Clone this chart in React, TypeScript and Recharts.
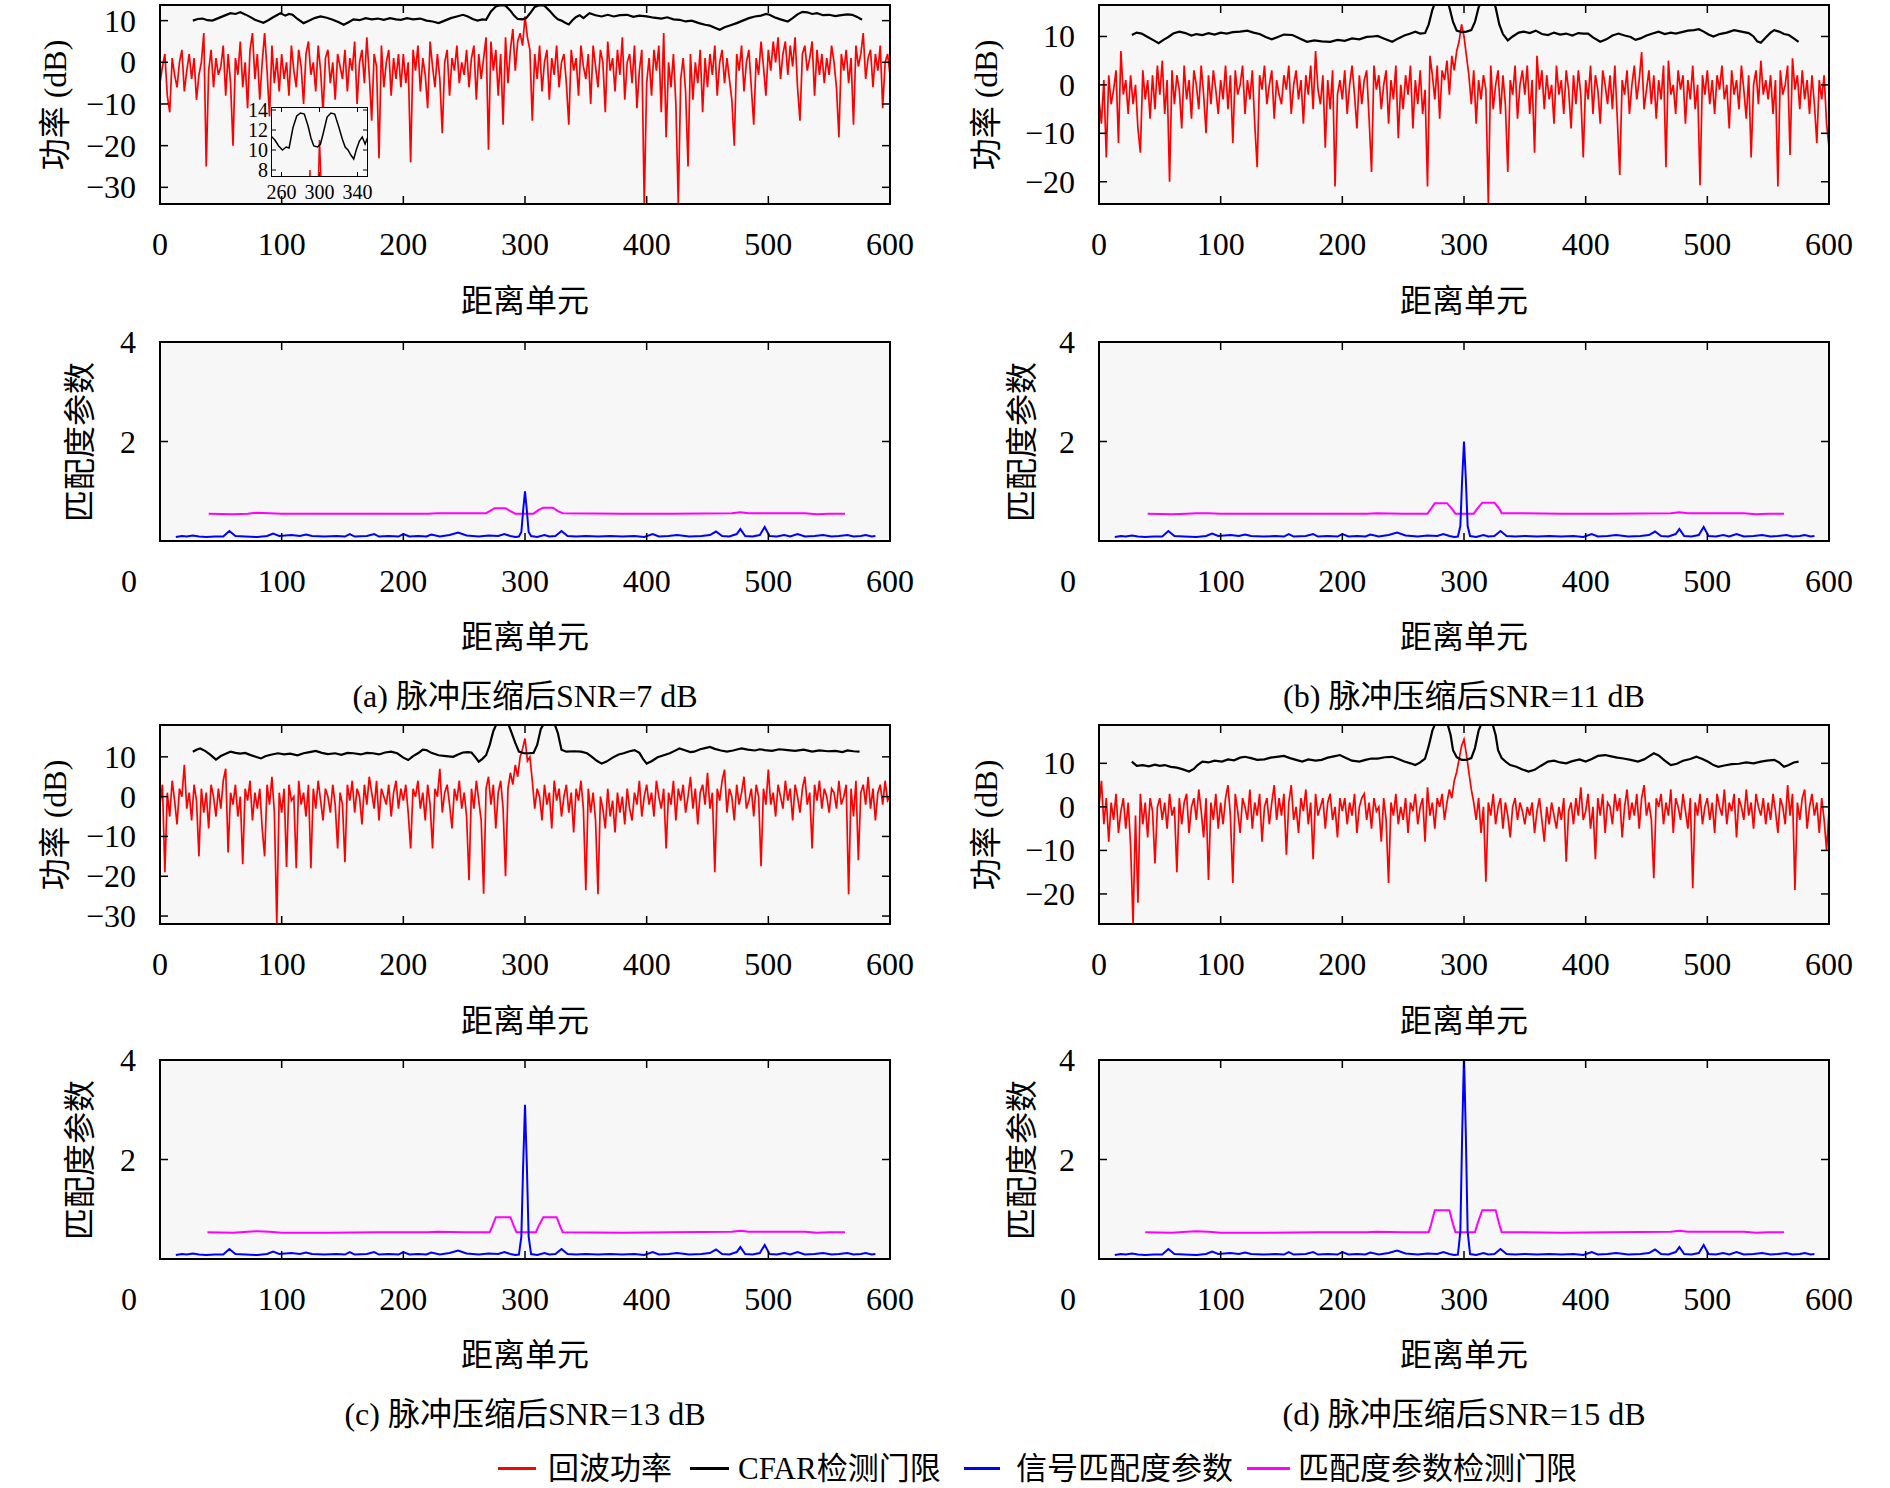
import React from 'react';
import { LineChart, Line, XAxis, YAxis } from 'recharts';

const FONT = "'Liberation Serif', 'Noto Sans CJK SC', serif";
const RED_STEP = 2;
const distanceTicks = [0, 100, 200, 300, 400, 500, 600];
const insetXTicks = [260, 300, 340];
const insetYTicks = [8, 10, 12, 14];
const matchTicks = [0, 2, 4];

// 回波功率 (dB), one value every RED_STEP range cells from 0 to 600
const echoA = [
  -5, -1, 2, -8, -12, 1, -3, -6, 0, 3, -7, -2, 2, -4, 1, -9, -3, 0, 7, -25, -2, 3, -6, 1, -3,
  -1, 4, -8, 2, -5, -20, 1, -3, 5, -6, 0, -11, 3, 7, -4, 2, -9, 0, 7, -2, -13, 4, -5, 1, -7,
  2, -4, 0, -8, 4, -2, -6, 3, -1, -10, 2, 5, -3, 0, -7, 4, -2, -12, 1, 3, -5, 0, -9, 2, -1,
  -4, 3, -7, 1, -2, 5, -10, 0, 3, -5, 6, -3, -14, 2, -1, -23, 4, -6, 0, 3, -8, 1, -4, 2, -6,
  2, -5, 0, -24, 3, -2, 4, -7, 1, -3, -11, 5, -1, -6, 2, -4, -17, 0, 3, -8, 1, -2, 4, -5, 0,
  -3, 3, -6, 1, 4, -9, 2, -4, 1, 6, -21, 5, -2, 3, -8, 2, -15, 6, -5, 3, 8, -2, 5, 7, 4,
  11, 6, 3, -14, 2, -4, 4, -7, 0, 3, -9, 1, -3, 4, -6, 0, 2, -5, -15, 3, -2, 1, -8, 4, -1,
  -4, 2, -10, 4, -1, -6, 3, 0, -12, 5, -2, 1, -7, 3, -3, 6, -9, 0, 2, -5, 4, -11, -2, 3, -34,
  -5, 1, -8, 3, -2, 4, -12, 7, -18, 0, -6, 2, -10, -34, -4, 1, -7, -25, 2, -9, 0, -5, 3, -12, 1,
  -6, 2, -3, 4, -8, 0, 3, -5, 1, -4, -9, -20, 2, -2, 4, -7, 0, 3, -6, -15, 1, -3, 5, -1, -8,
  3, -2, 5, 0, 6, -4, 2, 5, -3, 4, -1, 6, -6, -14, 2, 4, -2, 1, 5, -8, 3, -3, 2, -5, 1,
  -3, 4, 0, -6, -18, 2, -2, 3, -5, 1, -15, 4, -1, 2, 7, -4, 1, 3, -6, 2, -2, 4, -11, 0, 2,
  -3,
];
const echoB = [
  -3, -8, 1, -15, 2, -4, -1, 3, -12, 7, -2, 1, -6, 2, -4, 0, -9, -14, 3, -3, 1, -7, 2, -5, 4,
  -2, 5, -6, 1, -20, 3, -4, 2, -1, -9, 4, -3, 1, -7, 3, 0, -5, 4, -2, -10, 2, -4, 3, -1, -6,
  1, -3, 4, -5, 2, -12, 3, -2, 0, 4, -6, 1, -3, 3, -8, -17, 2, -1, 4, -4, 0, 3, -7, 1, -2,
  -4, 2, -1, 4, -6, 0, 3, -3, 1, -8, 2, -2, 4, -5, 7, -1, -4, 2, -13, 1, -5, 3, -21, -2, 1,
  -3, 3, -6, 0, 4, -2, -9, 2, -4, 1, 3, -7, -18, 4, -1, 2, -5, 0, 3, -8, 1, -3, 4, -11, 0,
  -5, 2, -2, 4, -9, 1, -4, 3, -6, -1, -21, 6, 2, -3, 4, -7, 3, 1, 5, -2, 6, 3, 7, 9, 12.5,
  10, 6, 2, -4, 3, -8, 1, -3, 2, -1, -24.6, 4, -5, 0, 3, -6, 2, -4, -18, 1, -2, 4, -7, 0, 3,
  -2, 4, -6, 1, -14, 6, -1, 3, -5, 2, -3, 0, -8, 4, -2, 1, -6, 3, -1, -9, 2, -4, 3, -2, -15,
  1, -3, 4, -6, 2, -1, -8, 3, 0, -4, 2, -5, 4, -7, -18.6, 1, -2, 3, -6, 0, 4, -3, 1, 6.8, -5,
  -1, 3, -4, 2, -7, 1, -3, 4, -17, 5, -2, 0, -6, 3, -1, 2, -8, 1, -3, 4, -5, 0, -20.7, 2, -2,
  3, -4, 1, -6, 2, -1, 4, -3, 0, -9, 3, -2, 1, -5, 4, -1, -7, 2, -15, 0, 3, -4, 5, -2, 1,
  -3, 2, -6, 1, -21, 3, -2, 0, 4, -14.5, 5.5, -1, 2, -5, 3, -3, 1, -6, 2, -4, -12, 1, -3, 2, -8,
  -12.8,
];
const echoC = [
  -2, 3, -19, 1, -5, 4, -1, -7, 2, 0, 8, -3, 1, -6, 3, -1, -15, 2, -4, 1, -8, 3, 0, -5, 2,
  -3, 4, 7, -14, 1, -2, 3, -5, 0, -17, 2, -1, 4, -6, 1, -3, 2, -8, -15, 3, -2, 5, -4, -32, 1,
  -4, 2, -17.7, 3, -1, 0, -18, 4, -2, 1, -5, 3, -18, 2, -3, 4, -1, -6, 2, 0, -4, 3, -2, -13, 1,
  -2, -16.5, 3, -1, 4, -4, 2, 0, -7, 3, -2, 5, 1, -3, 4, -6, 2, 0, -2, 3, -5, 1, 4, -3, 2,
  -1, 3, -4, -13, 2, 0, 4, -3, 1, -6, 3, -2, -13, 2, 0, 7, -4, 1, 3, -2, -8, 2, -1, 4, -3,
  1, -5, -21, 2, -3, 4, -1, -6, -24.4, 2, 5, -2, 3, -8, 1, 4, -3, -20, 2, 6, 3, 8, 5, 10, 12,
  14.6, 9, 10, 4, -3, 2, 0, -6, 3, -2, 1, -8, 4, -1, 2, -5, 0, 3, -4, 1, -9, 2, -1, 4, -3,
  -23.5, 2, -4, 1, -6, -24.5, 0, -3, -8, 2, -5, -1, -9, 1, -4, 0, -7, 2, -3, -6, 1, -2, 4, -5, 0,
  3, -2, 1, -5, 4, 0, -3, 2, -13, 1, -2, 4, -6, 2, -1, 3, -4, 0, 5, -3, 2, -7, 1, 3, -2,
  6, -3, 1, -19, 2, -1, 4, 6.8, -4, 2, 0, -6, 3, -2, 1, 5, -3, -1, 2, -5, 3, 0, -17.5, 2, -2,
  6.8, -2, 1, -5, 3, 0, -3, 4, -1, 2, -6, 3, 0, -4, 2, 5, -2, 1, -13, 3, -1, 4, -3, 2, 0,
  -4, 2, 1, -3, 4, -2, 0, 3, -24.5, 2, -5, 4, -16, 1, 3, -2, 5, -3, 2, -6, 1, 3, -2, 4, -1,
  0,
];
const echoD = [
  0, 6, -4, 2, -8, 1, -3, 3, -6, -1, 2, -5, 1, -9, -27, -2, -22, 3, -4, 1, -7, 2, -1, -13, 0,
  2, -3, 1, -5, 3, -2, 0, -15, 2, -4, 1, 3, -6, 0, 2, -3, 4, -1, -7, 2, -16.8, 1, -3, 3, -5,
  1, -4, 2, 5, -2, -17.5, 3, -1, -6, 2, 0, -3, 4, -5, 1, -2, 3, -8, 0, 2, -4, 1, 5, -3, 2,
  -2, 3, -11, 1, 5, -3, 0, -6, 2, -1, 4, -4, 1, -12, 3, -2, 0, 2, -5, 1, 3, -3, 0, -7, 2,
  -1, 2, -4, 1, -2, 3, -6, 0, 2, 3, -3, 1, -5, 2, -1, 0, -8, 2, -3, -17.5, 1, -2, 3, -4, 0,
  -3, 2, -6, 1, -1, 3, -4, 0, 2, -8, 4.5, -2, 1, -5, 2, 0, 3, -3, 1, 4, 2, 6, 8, 11, 14,
  15.5, 12, 8, 4, 1, -3, 2, -6, 0, -17.2, 1, -2, 3, -4, 0, 2, -5, 1, -2, -7, 0, 2, -3, 1, -1,
  -4, 0, -2, 1, -6, -1, 2, -3, -8, 0, -4, 1, -2, -5, 0, -3, 2, -12.6, -1, 1, -4, 2, -2, 4.5, -3,
  -1, 3, -5, 0, -12, 2, -2, 3, -6, 1, 0, -4, 3, -1, 2, -7, 0, 4, -3, 1, -2, 3, -5, 2, 5,
  -2, 1, -3, -16.4, 2, 0, 3, -4, 1, -2, 4, -6, 2, 0, -3, 3, -1, -5, 2, -18.7, 1, -2, 3, -4, 0,
  2, -3, 1, -6, 3, 0, -2, 4, -4, 1, -1, 3, -7, 2, 0, -3, 4, -2, 1, -5, 3, 0, -2, 2, -4,
  1, -3, 3, -1, -6, 2, 0, -4, 5, -2, 3, -19.1, 1, -3, 2, 4, -5, 0, 3, -2, 1, -6, 2, -3, -10,
  -1,
];

// CFAR检测门限 (dB): [range cell, value]
const cfarA = [
  [27, 10.0], [31, 10.4], [35, 10.5], [39, 10.1], [43, 10.0], [48, 10.6], [53, 11.2], [58, 11.8], [62, 11.6], [66, 12.0],
  [70, 11.5], [74, 10.9], [78, 10.2], [82, 9.8], [85, 9.5], [89, 10.1], [93, 10.8], [96, 11.3], [99, 11.8], [103, 11.2],
  [106, 11.6], [109, 11.4], [113, 10.4], [118, 9.4], [122, 9.9], [127, 10.6], [132, 11.0], [137, 10.7], [142, 10.2], [147, 9.6],
  [151, 9.0], [155, 9.6], [159, 10.3], [164, 10.1], [169, 10.6], [174, 10.3], [179, 10.5], [184, 10.2], [189, 10.6], [194, 10.3],
  [198, 10.2], [203, 10.6], [208, 10.3], [214, 10.5], [219, 10.0], [224, 9.8], [229, 9.4], [234, 10.0], [239, 10.6], [244, 11.0],
  [249, 11.4], [253, 11.0], [257, 10.4], [261, 10.0], [265, 10.3], [268, 10.2], [272, 12.2], [276, 13.4], [280, 13.7], [284, 13.6],
  [288, 12.4], [291, 11.2], [294, 10.4], [298, 10.3], [301, 10.6], [304, 11.7], [308, 13.3], [312, 13.7], [316, 13.6], [320, 12.4],
  [324, 11.1], [327, 10.3], [330, 10.0], [333, 9.5], [336, 9.1], [339, 10.1], [342, 10.9], [345, 11.3], [348, 10.6], [353, 11.8],
  [358, 11.3], [363, 11.0], [368, 11.4], [373, 11.0], [378, 11.3], [384, 11.4], [389, 10.9], [394, 11.2], [400, 11.0], [406, 10.7],
  [412, 10.5], [417, 10.8], [422, 10.3], [427, 10.2], [432, 9.8], [437, 10.0], [443, 9.4], [448, 9.0], [452, 8.8], [456, 8.3],
  [460, 7.8], [464, 8.4], [469, 8.9], [474, 9.4], [479, 10.0], [484, 10.6], [489, 11.0], [494, 11.2], [498, 11.6], [501, 11.4],
  [505, 10.8], [510, 10.3], [516, 9.8], [520, 10.6], [524, 11.5], [528, 12.1], [532, 12.0], [536, 11.6], [540, 11.8], [545, 11.3],
  [550, 11.4], [555, 11.1], [560, 11.3], [565, 11.5], [569, 11.4], [573, 10.9], [577, 10.2],
];
const cfarB = [
  [27, 10.3], [31, 10.8], [35, 10.6], [40, 9.9], [45, 9.2], [49, 8.6], [53, 9.3], [57, 9.9], [61, 10.6], [66, 11.0],
  [71, 10.7], [76, 10.2], [80, 10.5], [85, 10.3], [90, 10.7], [95, 10.4], [100, 10.8], [105, 10.6], [110, 10.9], [116, 11.0],
  [122, 11.2], [127, 10.8], [132, 10.5], [137, 9.9], [142, 9.4], [147, 9.9], [152, 10.4], [159, 10.3], [165, 9.6], [171, 8.9],
  [177, 9.2], [183, 9.0], [190, 8.9], [196, 9.3], [202, 9.1], [208, 9.6], [214, 9.4], [220, 9.9], [225, 10.0], [229, 10.1],
  [234, 9.6], [241, 8.9], [246, 9.6], [251, 10.2], [256, 10.6], [260, 11.0], [264, 10.6], [268, 10.7], [271, 12.5], [274, 15.5],
  [277, 17.5], [285, 18], [288, 16], [291, 13], [294, 11.2], [298, 10.9], [302, 11], [306, 11.3], [309, 13], [312, 16],
  [315, 17.5], [323, 18], [326, 16], [329, 12.5], [332, 10.5], [336, 9.2], [340, 10], [345, 10.8], [349, 11], [354, 10.7],
  [359, 11.2], [364, 10.5], [369, 10.3], [374, 10.8], [379, 10.4], [384, 10.6], [389, 10.2], [394, 10.7], [398, 10.6], [402, 10.6],
  [406, 9.8], [412, 8.9], [417, 9.4], [422, 10.2], [427, 10.6], [432, 10.2], [437, 9.9], [441, 9.3], [445, 9.6], [450, 10.2],
  [455, 10.6], [460, 11.0], [465, 10.5], [470, 10.8], [474, 10.6], [479, 10.9], [484, 11.2], [489, 11.3], [493, 11.5], [497, 11.0],
  [501, 10.4], [505, 10.0], [510, 10.5], [516, 10.8], [522, 11.3], [528, 11.0], [534, 10.7], [538, 10.0], [541, 9.0], [544, 8.7],
  [548, 9.8], [552, 10.8], [555, 11.3], [559, 11.0], [563, 10.5], [567, 10.3], [571, 9.6], [575, 8.9],
];
const cfarC = [
  [27, 11.3], [30, 11.8], [33, 12.1], [37, 11.5], [41, 10.6], [46, 9.3], [50, 10.2], [54, 10.8], [58, 11.3], [62, 11.0],
  [66, 10.8], [70, 11.0], [74, 10.5], [78, 10.1], [83, 9.6], [87, 10.2], [92, 10.6], [97, 10.9], [102, 10.6], [107, 10.8],
  [113, 10.4], [118, 10.9], [123, 11.2], [128, 11.5], [133, 11.0], [138, 10.7], [144, 10.9], [149, 10.5], [154, 11.0], [159, 10.9],
  [165, 10.6], [170, 11.0], [175, 10.9], [180, 10.6], [185, 11.1], [190, 11.3], [195, 10.9], [200, 9.8], [204, 9.2], [208, 10.2],
  [213, 11.1], [216, 11.8], [219, 11.7], [223, 11.0], [229, 10.4], [235, 10.2], [241, 10.0], [245, 10.6], [249, 11.1], [253, 11.2],
  [256, 11.1], [259, 10.0], [262, 8.8], [265, 9.5], [268, 10.4], [271, 13], [274, 16.5], [277, 18.5], [286, 18.5], [289, 16],
  [292, 13.5], [295, 11.3], [299, 10.9], [303, 10.9], [307, 11], [310, 13], [313, 17], [316, 18.5], [324, 18.5], [327, 16],
  [330, 11.8], [334, 11.3], [340, 11.4], [346, 11.3], [351, 10.9], [355, 10.0], [359, 9.0], [363, 8.3], [367, 8.8], [372, 9.8],
  [377, 10.6], [381, 10.9], [386, 11.4], [390, 11.7], [394, 11.0], [397, 9.5], [400, 8.3], [404, 8.9], [409, 9.9], [414, 10.4],
  [419, 10.9], [423, 11.5], [427, 12.1], [432, 11.6], [436, 11.2], [439, 11.3], [444, 11.9], [448, 12.2], [452, 12.5], [456, 12.0],
  [461, 11.6], [466, 11.3], [471, 11.6], [475, 11.9], [478, 12.1], [483, 11.8], [489, 11.6], [493, 11.9], [497, 11.7], [503, 11.5],
  [509, 11.9], [516, 11.7], [522, 11.5], [529, 11.8], [536, 11.3], [542, 11.6], [549, 11.4], [555, 11.5], [561, 11.2], [565, 11.6],
  [570, 11.4], [575, 11.3],
];
const cfarD = [
  [27, 10.4], [31, 9.4], [36, 9.6], [41, 9.3], [46, 9.7], [50, 9.4], [54, 9.6], [59, 9.2], [64, 9.0], [69, 8.6],
  [74, 8.1], [78, 8.7], [81, 9.6], [85, 10.4], [90, 10.2], [95, 10.6], [101, 10.4], [106, 10.9], [111, 10.7], [116, 11.3],
  [120, 11.5], [125, 11.2], [130, 10.8], [136, 10.9], [141, 11.3], [146, 11.5], [152, 11.7], [157, 11.2], [162, 10.8], [167, 10.4],
  [172, 10.9], [178, 10.6], [183, 10.8], [188, 11.3], [193, 11.6], [198, 11.9], [203, 11.2], [208, 10.6], [214, 10.4], [219, 10.8],
  [224, 11.1], [229, 11.1], [235, 11.4], [241, 11.5], [246, 11.0], [251, 10.4], [256, 10.0], [260, 9.6], [264, 10.2], [268, 11.1],
  [271, 14], [274, 17.5], [277, 19.5], [286, 19.5], [289, 16.5], [291, 13], [294, 11.4], [298, 10.8], [302, 10.8], [306, 11.2],
  [309, 13.5], [312, 17.5], [315, 19.5], [323, 19.5], [326, 16.5], [328, 13], [331, 11.2], [335, 10.2], [338, 9.6], [343, 9.2],
  [348, 8.6], [353, 8.1], [358, 8.5], [363, 9.4], [369, 10.4], [374, 10.6], [379, 10.2], [384, 10.0], [389, 10.5], [395, 10.9],
  [400, 10.4], [405, 11.0], [410, 11.7], [416, 11.9], [421, 11.6], [426, 11.3], [431, 11.1], [437, 10.8], [443, 10.4], [448, 10.9],
  [452, 11.6], [456, 12.3], [460, 11.8], [465, 10.6], [470, 9.6], [475, 9.9], [480, 10.6], [486, 11.0], [491, 11.5], [496, 11.0],
  [501, 10.3], [505, 9.6], [509, 9.2], [514, 9.5], [520, 9.8], [526, 9.9], [532, 10.2], [538, 10.0], [544, 10.4], [549, 10.6],
  [555, 10.8], [559, 10.2], [563, 9.2], [567, 9.6], [571, 10.2], [575, 10.4],
];

// 信号匹配度参数: range cells and values
const matchUnits = [
  13, 18, 22, 27, 32, 38, 45, 52, 57, 62, 70, 80, 88, 93, 98, 108, 115, 120, 125, 135,
  145, 152, 156, 160, 170, 176, 180, 188, 196, 200, 205, 212, 219, 223, 230, 238, 245, 252, 262, 270,
  278, 283, 288, 292, 295, 297, 298.5, 300, 301.5, 303, 305, 310, 316, 320, 325, 330, 335, 342, 350, 360,
  370, 380, 390, 398, 405, 410, 418, 425, 435, 445, 452, 457, 462, 468, 474, 477, 481, 487, 493, 497,
  501, 507, 513, 518, 524, 530, 538, 545, 552, 558, 565, 570, 576, 580, 585, 588,
];
const matchA = [
  0.08, 0.1, 0.09, 0.11, 0.09, 0.08, 0.09, 0.09, 0.2, 0.1, 0.09, 0.08, 0.1, 0.15, 0.1, 0.12, 0.1, 0.13, 0.1, 0.09,
  0.1, 0.09, 0.14, 0.09, 0.1, 0.14, 0.09, 0.1, 0.09, 0.14, 0.09, 0.1, 0.09, 0.13, 0.09, 0.12, 0.17, 0.11, 0.09, 0.11,
  0.1, 0.14, 0.1, 0.08, 0.09, 0.18, 0.62, 1.0, 0.62, 0.18, 0.1, 0.08, 0.12, 0.09, 0.1, 0.2, 0.1, 0.09, 0.1, 0.09,
  0.1, 0.09, 0.1, 0.08, 0.14, 0.09, 0.1, 0.12, 0.09, 0.1, 0.12, 0.19, 0.1, 0.09, 0.14, 0.24, 0.1, 0.09, 0.12, 0.28,
  0.1, 0.09, 0.12, 0.09, 0.14, 0.09, 0.1, 0.12, 0.09, 0.1, 0.12, 0.09, 0.1, 0.12, 0.09, 0.1,
];
const matchB = [
  0.08, 0.1, 0.09, 0.11, 0.09, 0.08, 0.09, 0.09, 0.2, 0.1, 0.09, 0.08, 0.1, 0.15, 0.1, 0.12, 0.1, 0.13, 0.1, 0.09,
  0.1, 0.09, 0.14, 0.09, 0.1, 0.14, 0.09, 0.1, 0.09, 0.14, 0.09, 0.1, 0.09, 0.13, 0.09, 0.12, 0.17, 0.11, 0.09, 0.11,
  0.1, 0.14, 0.1, 0.08, 0.09, 0.3, 1.25, 2.0, 1.25, 0.3, 0.1, 0.08, 0.12, 0.09, 0.1, 0.2, 0.1, 0.09, 0.1, 0.09,
  0.1, 0.09, 0.1, 0.08, 0.14, 0.09, 0.1, 0.12, 0.09, 0.1, 0.12, 0.19, 0.1, 0.09, 0.14, 0.24, 0.1, 0.09, 0.12, 0.28,
  0.1, 0.09, 0.12, 0.09, 0.14, 0.09, 0.1, 0.12, 0.09, 0.1, 0.12, 0.09, 0.1, 0.12, 0.09, 0.1,
];
const matchC = [
  0.08, 0.1, 0.09, 0.11, 0.09, 0.08, 0.09, 0.09, 0.2, 0.1, 0.09, 0.08, 0.1, 0.15, 0.1, 0.12, 0.1, 0.13, 0.1, 0.09,
  0.1, 0.09, 0.14, 0.09, 0.1, 0.14, 0.09, 0.1, 0.09, 0.14, 0.09, 0.1, 0.09, 0.13, 0.09, 0.12, 0.17, 0.11, 0.09, 0.11,
  0.1, 0.14, 0.1, 0.08, 0.09, 0.45, 1.9, 3.1, 1.9, 0.45, 0.1, 0.08, 0.12, 0.09, 0.1, 0.2, 0.1, 0.09, 0.1, 0.09,
  0.1, 0.09, 0.1, 0.08, 0.14, 0.09, 0.1, 0.12, 0.09, 0.1, 0.12, 0.19, 0.1, 0.09, 0.14, 0.24, 0.1, 0.09, 0.12, 0.28,
  0.1, 0.09, 0.12, 0.09, 0.14, 0.09, 0.1, 0.12, 0.09, 0.1, 0.12, 0.09, 0.1, 0.12, 0.09, 0.1,
];
const matchD = [
  0.08, 0.1, 0.09, 0.11, 0.09, 0.08, 0.09, 0.09, 0.2, 0.1, 0.09, 0.08, 0.1, 0.15, 0.1, 0.12, 0.1, 0.13, 0.1, 0.09,
  0.1, 0.09, 0.14, 0.09, 0.1, 0.14, 0.09, 0.1, 0.09, 0.14, 0.09, 0.1, 0.09, 0.13, 0.09, 0.12, 0.17, 0.11, 0.09, 0.11,
  0.1, 0.14, 0.1, 0.08, 0.09, 0.55, 2.5, 4.1, 2.5, 0.55, 0.1, 0.08, 0.12, 0.09, 0.1, 0.2, 0.1, 0.09, 0.1, 0.09,
  0.1, 0.09, 0.1, 0.08, 0.14, 0.09, 0.1, 0.12, 0.09, 0.1, 0.12, 0.19, 0.1, 0.09, 0.14, 0.24, 0.1, 0.09, 0.12, 0.28,
  0.1, 0.09, 0.12, 0.09, 0.14, 0.09, 0.1, 0.12, 0.09, 0.1, 0.12, 0.09, 0.1, 0.12, 0.09, 0.1,
];

// 匹配度参数检测门限: [range cell, value]
const thrA = [
  [40, 0.55], [60, 0.54], [72, 0.55], [80, 0.57], [90, 0.56], [100, 0.55], [140, 0.55], [180, 0.55], [220, 0.55], [228, 0.56],
  [250, 0.56], [268, 0.56], [271, 0.6], [275, 0.66], [284, 0.66], [288, 0.6], [292, 0.55], [307, 0.55], [311, 0.62], [315, 0.67],
  [323, 0.67], [327, 0.6], [331, 0.56], [380, 0.55], [420, 0.55], [470, 0.56], [477, 0.58], [484, 0.56], [530, 0.56], [540, 0.54],
  [550, 0.55], [563, 0.55],
];
const thrB = [
  [40, 0.55], [60, 0.54], [72, 0.55], [80, 0.56], [90, 0.56], [100, 0.55], [140, 0.55], [180, 0.55], [220, 0.55], [228, 0.56],
  [250, 0.55], [270, 0.55], [273, 0.65], [276, 0.76], [286, 0.76], [290, 0.65], [293, 0.55], [308, 0.55], [311, 0.65], [315, 0.77],
  [325, 0.77], [329, 0.65], [331, 0.56], [380, 0.55], [420, 0.55], [470, 0.56], [477, 0.58], [484, 0.56], [530, 0.56], [540, 0.54],
  [550, 0.55], [563, 0.55],
];
const thrC = [
  [39, 0.54], [60, 0.53], [72, 0.55], [80, 0.56], [90, 0.55], [100, 0.53], [140, 0.53], [180, 0.54], [220, 0.54], [228, 0.55],
  [250, 0.54], [271, 0.54], [273, 0.65], [276, 0.84], [288, 0.84], [291, 0.65], [293, 0.54], [309, 0.54], [311, 0.65], [315, 0.84],
  [326, 0.84], [329, 0.65], [331, 0.54], [380, 0.53], [420, 0.54], [470, 0.55], [477, 0.57], [484, 0.55], [530, 0.55], [540, 0.53],
  [550, 0.54], [563, 0.54],
];
const thrD = [
  [38, 0.54], [60, 0.53], [72, 0.55], [80, 0.56], [90, 0.55], [100, 0.53], [140, 0.53], [180, 0.54], [220, 0.54], [228, 0.55],
  [250, 0.54], [271, 0.54], [273, 0.7], [276, 0.98], [288, 0.98], [291, 0.7], [293, 0.54], [309, 0.54], [311, 0.7], [315, 0.98],
  [326, 0.98], [329, 0.7], [331, 0.54], [380, 0.53], [420, 0.54], [470, 0.55], [477, 0.57], [484, 0.55], [530, 0.55], [540, 0.53],
  [550, 0.54], [563, 0.54],
];

const domainA = [-34, 13.75];
const domainB = [-24.6, 16.5];
const domainC = [-32, 18];
const domainD = [-26.9, 18.8];
const domainMatch = [0, 4];
const domainInsetX = [250, 350];
const domainInsetY = [7.4, 14.2];
const ticksA = [-30, -20, -10, 0, 10];
const ticksB = [-20, -10, 0, 10];
const ticksC = [-30, -20, -10, 0, 10];
const ticksD = [-20, -10, 0, 10];

type Pt = { x: number; y: number };
const echoTable = (vals: number[]): Pt[] => vals.map((y, i) => ({ x: i * RED_STEP, y }));
const pairTable = (pairs: number[][]): Pt[] => pairs.map(([x, y]) => ({ x, y }));
const matchTable = (vals: number[]): Pt[] => vals.map((y, i) => ({ x: matchUnits[i], y }));

const RED = '#ff0000';
const BLACK = '#000000';
const BLUE = '#0000ff';
const MAGENTA = '#ff00ff';
const PLOT_BG = '#f7f7f7';

const PW = 730;
const PH = 199;
const ML = 150;
const MR = 50;
const MT = 30;
const MB = 60;
const FS = 32;

const fmt = (v: number) => (v < 0 ? '\u2212' + String(-v) : String(v));

type Series = { data: Pt[]; color: string; width: number; key: string };

function makeXTick(zeroShift: number, plotH: number) {
  return (p: any) => {
    const v = p.payload.value;
    const cx = p.x;
    const bottom = MT + plotH;
    return (
      <g>
        {v > 0 && v < 600 ? (
          <g>
            <line x1={cx} x2={cx} y1={bottom} y2={bottom - 8} stroke="#000" strokeWidth={1.5} />
            <line x1={cx} x2={cx} y1={MT} y2={MT + 8} stroke="#000" strokeWidth={1.5} />
          </g>
        ) : null}
        <text
          x={v === 0 ? cx + zeroShift : cx}
          y={bottom + 40}
          textAnchor="middle"
          dominantBaseline="central"
          fontFamily={FONT}
          fontSize={FS}
          fill="#000"
        >
          {fmt(v)}
        </text>
      </g>
    );
  };
}

function makeYTick(lo: number, hi: number, hideZero: boolean) {
  return (p: any) => {
    const v = p.payload.value;
    const cy = p.y;
    const edge = v === lo || v === hi;
    return (
      <g>
        {!edge ? (
          <g>
            <line x1={ML} x2={ML + 8} y1={cy} y2={cy} stroke="#000" strokeWidth={1.5} />
            <line x1={ML + PW - 8} x2={ML + PW} y1={cy} y2={cy} stroke="#000" strokeWidth={1.5} />
          </g>
        ) : null}
        {hideZero && v === 0 ? null : (
          <text x={ML - 24} y={cy} textAnchor="end" dominantBaseline="central" fontFamily={FONT} fontSize={FS} fill="#000">
            {fmt(v)}
          </text>
        )}
      </g>
    );
  };
}

function Plot(props: {
  left: number;
  top: number;
  domain: number[];
  ticks: number[];
  series: Series[];
  bottomPanel?: boolean;
}) {
  const { left, top, domain, ticks, series, bottomPanel } = props;
  return (
    <>
      <div style={{ position: 'absolute', left, top, width: PW, height: PH, background: PLOT_BG }} />
      <div style={{ position: 'absolute', left: left - ML, top: top - MT }}>
        <LineChart width={ML + PW + MR} height={MT + PH + MB} margin={{ top: MT, right: MR, bottom: 0, left: 0 }}>
          <XAxis
            type="number"
            dataKey="x"
            domain={[0, 600]}
            ticks={distanceTicks}
            interval={0}
            height={MB}
            axisLine={false}
            tickLine={false}
            allowDataOverflow
            tick={makeXTick(bottomPanel ? -31 : 0, PH)}
          />
          <YAxis
            type="number"
            domain={domain}
            ticks={ticks}
            interval={0}
            width={ML}
            axisLine={false}
            tickLine={false}
            allowDataOverflow
            tick={makeYTick(domain[0], domain[1], !!bottomPanel)}
          />
          {series.map((s) => (
            <Line
              key={s.key}
              data={s.data}
              dataKey="y"
              type="linear"
              stroke={s.color}
              strokeWidth={s.width}
              dot={false}
              activeDot={false}
              isAnimationActive={false}
            />
          ))}
        </LineChart>
      </div>
      <div
        style={{
          position: 'absolute',
          left: left - 1,
          top: top - 1,
          width: PW + 2,
          height: PH + 2,
          border: '2px solid #000',
          boxSizing: 'border-box',
        }}
      />
    </>
  );
}

// inset in panel (a)
const IL = 272;
const IT = 108;
const IW = 95;
const IH = 68;
const IML = 40;
const IMT = 12;
const IMR = 24;
const IMB = 32;
const IFS = 20;

function Inset() {
  const xTick = (p: any) => {
    const v = p.payload.value;
    const cx = p.x;
    return (
      <g>
        <line x1={cx} x2={cx} y1={IMT + IH} y2={IMT + IH - 4} stroke="#000" strokeWidth={1} />
        <line x1={cx} x2={cx} y1={IMT} y2={IMT + 4} stroke="#000" strokeWidth={1} />
        <text x={cx} y={IMT + IH + 16} textAnchor="middle" dominantBaseline="central" fontFamily={FONT} fontSize={IFS} fill="#000">
          {v}
        </text>
      </g>
    );
  };
  const yTick = (p: any) => {
    const v = p.payload.value;
    const cy = p.y;
    return (
      <g>
        <line x1={IML} x2={IML + 4} y1={cy} y2={cy} stroke="#000" strokeWidth={1} />
        <line x1={IML + IW - 4} x2={IML + IW} y1={cy} y2={cy} stroke="#000" strokeWidth={1} />
        <text x={IML - 4} y={cy} textAnchor="end" dominantBaseline="central" fontFamily={FONT} fontSize={IFS} fill="#000">
          {v}
        </text>
      </g>
    );
  };
  return (
    <>
      <div style={{ position: 'absolute', left: IL, top: IT, width: IW, height: IH, background: PLOT_BG }} />
      <div style={{ position: 'absolute', left: IL - IML, top: IT - IMT }}>
        <LineChart width={IML + IW + IMR} height={IMT + IH + IMB} margin={{ top: IMT, right: IMR, bottom: 0, left: 0 }}>
          <XAxis
            type="number"
            dataKey="x"
            domain={domainInsetX}
            ticks={insetXTicks}
            interval={0}
            height={IMB}
            axisLine={false}
            tickLine={false}
            allowDataOverflow
            tick={xTick}
          />
          <YAxis
            type="number"
            domain={domainInsetY}
            ticks={insetYTicks}
            interval={0}
            width={IML}
            axisLine={false}
            tickLine={false}
            allowDataOverflow
            tick={yTick}
          />
          <Line data={echoTable(echoA)} dataKey="y" type="linear" stroke={RED} strokeWidth={1.5} dot={false} activeDot={false} isAnimationActive={false} />
          <Line data={pairTable(cfarA)} dataKey="y" type="linear" stroke={BLACK} strokeWidth={1.5} dot={false} activeDot={false} isAnimationActive={false} />
        </LineChart>
      </div>
      <div
        style={{
          position: 'absolute',
          left: IL - 1,
          top: IT - 1,
          width: IW + 2,
          height: IH + 2,
          border: '1.5px solid #000',
          boxSizing: 'border-box',
        }}
      />
    </>
  );
}

function Text(props: { x: number; y: number; rotate?: boolean; children: React.ReactNode }) {
  return (
    <div
      style={{
        position: 'absolute',
        left: props.x,
        top: props.y,
        transform: 'translate(-50%, -50%)' + (props.rotate ? ' rotate(-90deg)' : ''),
        fontFamily: FONT,
        fontSize: FS,
        lineHeight: 1.15,
        whiteSpace: 'nowrap',
        color: '#000',
      }}
    >
      {props.children}
    </div>
  );
}

const COL_L = 160;
const COL_R = 1099;
const ROW_TOPS = [5, 342, 725, 1060];

const LEGEND_Y = 1468;
const legendItems = [
  { label: '回波功率', color: RED, x1: 498, x2: 536, tx: 548 },
  { label: 'CFAR检测门限', color: BLACK, x1: 690, x2: 729, tx: 738 },
  { label: '信号匹配度参数', color: BLUE, x1: 964, x2: 1000, tx: 1016 },
  { label: '匹配度参数检测门限', color: MAGENTA, x1: 1247, x2: 1290, tx: 1298 },
];

const captions = ['(a) 脉冲压缩后SNR=7 dB', '(b) 脉冲压缩后SNR=11 dB', '(c) 脉冲压缩后SNR=13 dB', '(d) 脉冲压缩后SNR=15 dB'];

export default function App() {
  const panels = [
    { left: COL_L, row: 0, domain: domainA, ticks: ticksA, echo: echoA, cfar: cfarA, match: matchA, thr: thrA },
    { left: COL_R, row: 0, domain: domainB, ticks: ticksB, echo: echoB, cfar: cfarB, match: matchB, thr: thrB },
    { left: COL_L, row: 1, domain: domainC, ticks: ticksC, echo: echoC, cfar: cfarC, match: matchC, thr: thrC },
    { left: COL_R, row: 1, domain: domainD, ticks: ticksD, echo: echoD, cfar: cfarD, match: matchD, thr: thrD },
  ];
  return (
    <div style={{ position: 'absolute', left: 0, top: 0, width: 1890, height: 1488, background: '#ffffff', overflow: 'hidden' }}>
      {panels.map((p, i) => {
        const topY = ROW_TOPS[p.row * 2];
        const botY = ROW_TOPS[p.row * 2 + 1];
        const cx = p.left + PW / 2;
        const yl1 = p.left === COL_L ? 55 : 986;
        const yl2 = p.left === COL_L ? 80 : 1022;
        return (
          <React.Fragment key={i}>
            <Plot
              left={p.left}
              top={topY}
              domain={p.domain}
              ticks={p.ticks}
              series={[
                { key: 'echo', data: echoTable(p.echo), color: RED, width: 1.7 },
                { key: 'cfar', data: pairTable(p.cfar), color: BLACK, width: 2.2 },
              ]}
            />
            <Plot
              left={p.left}
              top={botY}
              domain={domainMatch}
              ticks={matchTicks}
              bottomPanel
              series={[
                { key: 'thr', data: pairTable(p.thr), color: MAGENTA, width: 2 },
                { key: 'match', data: matchTable(p.match), color: BLUE, width: 2 },
              ]}
            />
            <Text x={yl1} y={topY + PH / 2} rotate>
              功率 (dB)
            </Text>
            <Text x={yl2} y={botY + PH / 2} rotate>
              匹配度参数
            </Text>
            <Text x={cx} y={topY + PH + 97}>距离单元</Text>
            <Text x={cx} y={botY + PH + 96}>距离单元</Text>
            <Text x={cx} y={botY + PH + 155}>{captions[i]}</Text>
          </React.Fragment>
        );
      })}
      <Inset />
      {legendItems.map((it) => (
        <React.Fragment key={it.label}>
          <div style={{ position: 'absolute', left: it.x1, top: LEGEND_Y - 1, width: it.x2 - it.x1, height: 3, background: it.color }} />
          <div
            style={{
              position: 'absolute',
              left: it.tx,
              top: LEGEND_Y,
              transform: 'translateY(-50%)',
              fontFamily: FONT,
              fontSize: 31,
              lineHeight: 1,
              whiteSpace: 'nowrap',
            }}
          >
            {it.label}
          </div>
        </React.Fragment>
      ))}
    </div>
  );
}
